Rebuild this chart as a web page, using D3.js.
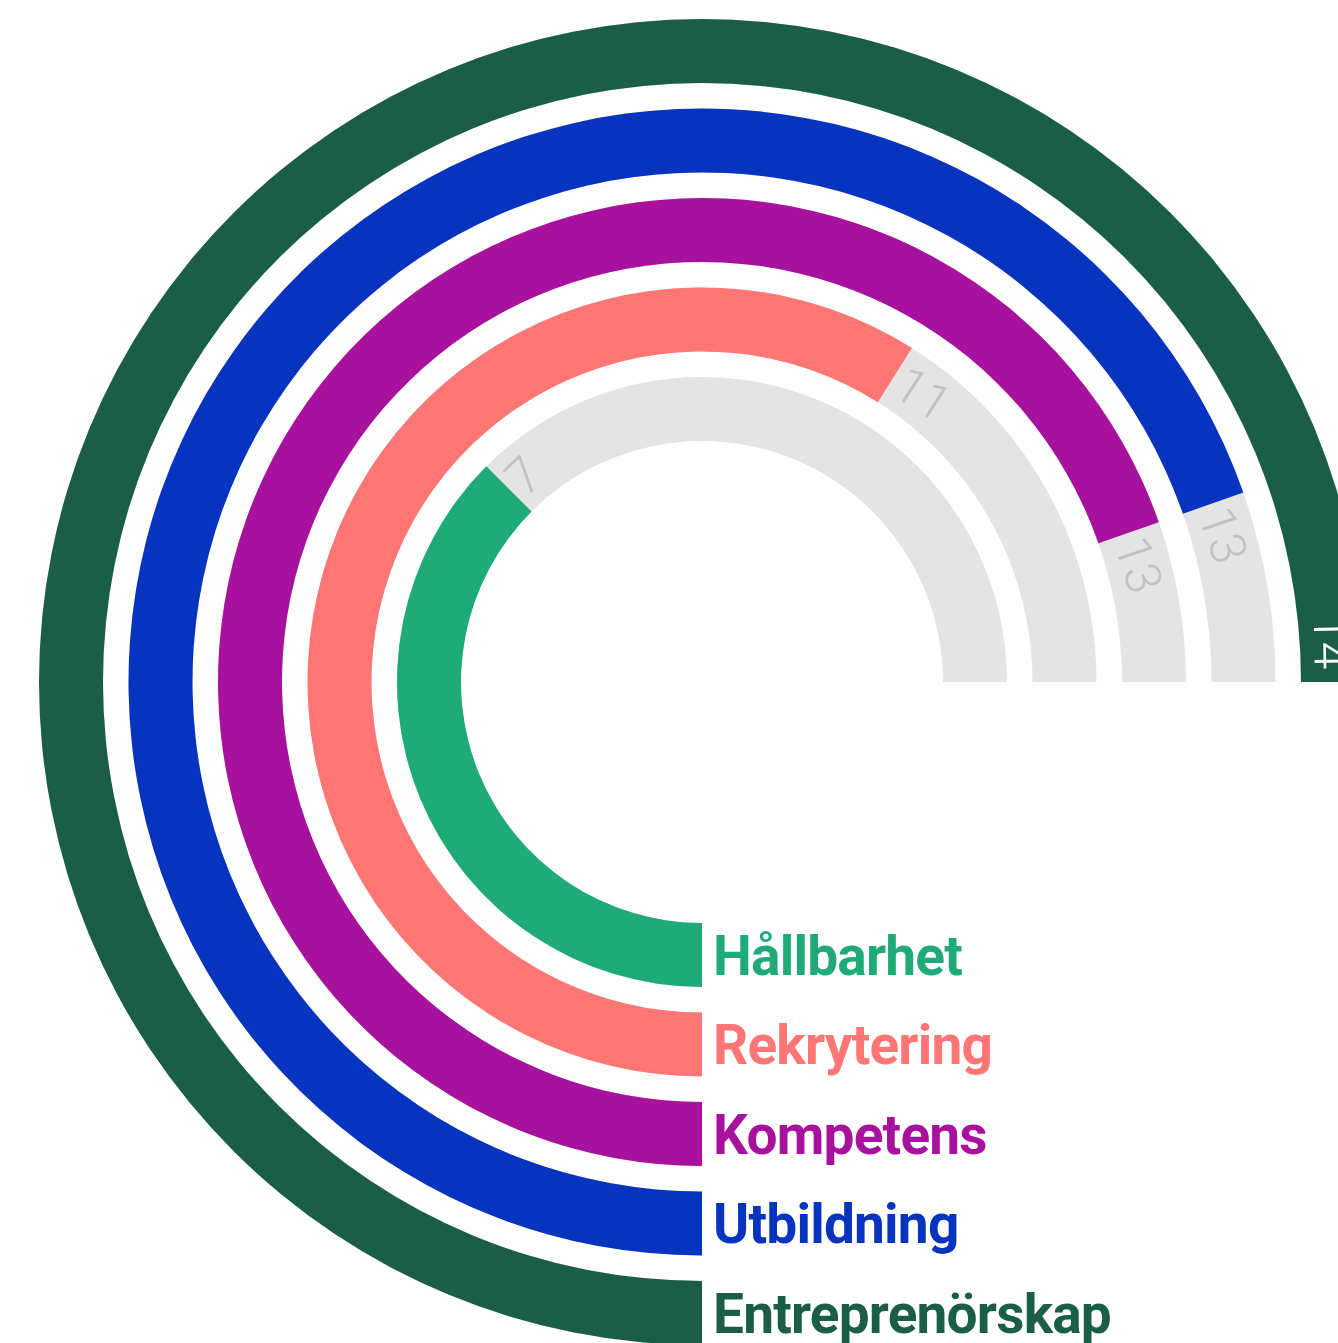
<!DOCTYPE html>
<html><head><meta charset="utf-8">
<script src="https://cdn.jsdelivr.net/npm/d3@7"></script>
<style>body{margin:0;background:#fff;overflow:hidden}svg{display:block}</style>
</head><body>
<svg id="chart" width="1338" height="1343"></svg>
<script>
const categories = ["Hållbarhet", "Rekrytering", "Kompetens", "Utbildning", "Entreprenörskap"];
const values = [7, 11, 13, 13, 14];
const colors = ["#1eab78", "#ff7675", "#a8119e", "#0634bf", "#1a5e48"];
const maxValue = 14;

const svg = d3.select("#chart");
const cx = 702, cy = 682;
const g = svg.append("g").attr("transform", `translate(${cx},${cy})`);

const r = d3.scaleBand().domain(categories).range([241, 663]).paddingInner(0.285).paddingOuter(0);
const startA = Math.PI, endA = 2.5 * Math.PI;
const a = d3.scaleLinear().domain([0, maxValue]).range([startA, endA]);
const arc = d3.arc();

const data = categories.map((c, i) => ({cat: c, v: values[i], col: colors[i]}));

// background tracks
g.selectAll("path.track").data(data).join("path").attr("class", "track")
  .attr("d", d => arc({innerRadius: r(d.cat), outerRadius: r(d.cat) + r.bandwidth(), startAngle: a(0), endAngle: a(maxValue)}))
  .attr("fill", "#e4e4e4");

// bars
g.selectAll("path.bar").data(data).join("path").attr("class", "bar")
  .attr("d", d => arc({innerRadius: r(d.cat), outerRadius: r(d.cat) + r.bandwidth(), startAngle: a(0), endAngle: a(d.v)}))
  .attr("fill", d => d.col);

// value labels
g.selectAll("text.val").data(data).join("text").attr("class", "val")
  .each(function(d) {
    const full = d.v >= maxValue;
    const rm = r(d.cat) + r.bandwidth() / 2;
    const ang = a(d.v);
    const off = full ? -13 : 6; // px along arc
    const aa = ang + off / rm;
    const x = rm * Math.sin(aa), y = -rm * Math.cos(aa);
    d3.select(this)
      .attr("transform", `translate(${x},${y}) rotate(${aa * 180 / Math.PI})`)
      .attr("text-anchor", full ? "end" : "start")
      .attr("dy", "0.36em")
      .attr("font-family", "Roboto")
      .attr("font-weight", 300)
      .attr("font-size", 50)
      .attr("fill", full ? "#ffffff" : "#c2c2c2")
      .text(d.v);
  });

// category labels
g.selectAll("text.cat").data(data).join("text").attr("class", "cat")
  .attr("x", 11)
  .attr("y", d => r(d.cat) + r.bandwidth() / 2)
  .attr("dy", "0.36em")
  .attr("font-family", "Roboto")
  .attr("font-weight", 700)
  .attr("font-size", 55)
  .attr("letter-spacing", "-0.8px")
  .attr("fill", d => d.col)
  .text(d => d.cat);
</script>
</body></html>
